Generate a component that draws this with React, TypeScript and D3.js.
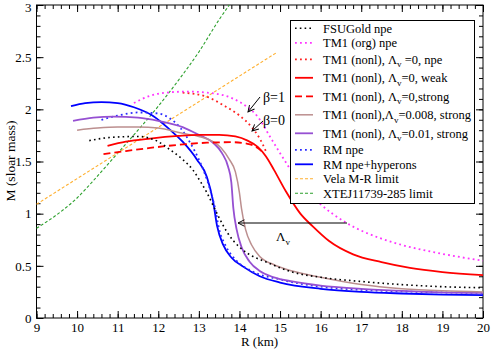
import React, { useEffect, useRef } from "react";
import * as d3 from "d3";

// [R (km), M (solar mass)]
const fsuGold = [
  [10.3, 1.7], [10.8, 1.73], [11.5, 1.74], [12.0, 1.69], [12.3, 1.61], [12.6, 1.52],
  [12.85, 1.42], [13.05, 1.3], [13.2, 1.2], [13.35, 1.08], [13.5, 0.96], [13.7, 0.82],
  [14.0, 0.68], [14.2, 0.62], [14.7, 0.53], [15.3, 0.44], [16.0, 0.39], [17.0, 0.35],
  [18.0, 0.32], [19.0, 0.3], [20.0, 0.29],
];
const tm1Org = [
  [11.4, 2.06], [11.8, 2.13], [12.2, 2.16], [12.7, 2.17], [13.2, 2.16], [13.8, 2.11],
  [14.2, 2.02], [14.45, 1.93], [14.75, 1.74], [15.0, 1.58], [15.5, 1.29], [16.0, 1.09],
  [16.6, 0.92], [17.5, 0.76], [18.0, 0.7], [18.8, 0.63], [19.5, 0.58], [20.0, 0.55],
];
const tm1NpeL0 = [
  [12.6, 2.16], [13.2, 2.12], [13.6, 2.04], [14.0, 1.94], [14.3, 1.83], [14.5, 1.72],
  [14.65, 1.6],
];
const tm1WeakL0 = [
  [10.75, 1.65], [11.2, 1.69], [11.8, 1.72], [12.5, 1.745], [13.0, 1.755], [13.5, 1.755],
  [13.9, 1.74], [14.2, 1.7], [14.45, 1.64], [14.65, 1.55], [14.85, 1.42], [15.15, 1.21],
  [15.5, 1.0], [15.8, 0.88], [16.2, 0.74], [16.8, 0.61], [17.5, 0.535], [18.2, 0.48],
  [19.0, 0.44], [20.0, 0.41],
];
const tm1StrongL0 = [
  [10.65, 1.57], [11.2, 1.6], [11.8, 1.63], [12.5, 1.66], [13.2, 1.68], [13.8, 1.685],
  [14.2, 1.67], [14.45, 1.63], [14.6, 1.58],
];
const tm1StrongL008 = [
  [10.0, 1.8], [10.5, 1.82], [11.0, 1.83], [11.5, 1.83], [12.0, 1.82], [12.6, 1.77],
  [13.0, 1.74], [13.3, 1.7], [13.55, 1.63], [13.75, 1.52], [13.9, 1.4], [14.0, 1.2],
  [14.05, 1.05], [14.15, 0.85], [14.3, 0.7], [14.5, 0.59], [14.85, 0.51], [15.3, 0.45],
  [16.0, 0.39], [17.0, 0.32], [18.0, 0.28], [19.0, 0.26], [20.0, 0.25],
];
const tm1StrongL01 = [
  [9.9, 1.89], [10.4, 1.92], [10.9, 1.93], [11.5, 1.92], [12.0, 1.89], [12.6, 1.83],
  [13.0, 1.755], [13.35, 1.68], [13.57, 1.58], [13.72, 1.45], [13.8, 1.3], [13.85, 1.05],
  [13.93, 0.85], [14.05, 0.68], [14.25, 0.54], [14.5, 0.45], [14.85, 0.39], [15.3, 0.35],
  [16.0, 0.31], [17.0, 0.28], [18.0, 0.26], [19.0, 0.245], [20.0, 0.24],
];
const rmNpe = [
  [10.6, 1.9], [11.0, 1.94], [11.5, 1.97], [12.0, 1.96], [12.3, 1.91], [12.55, 1.82],
  [12.8, 1.67], [13.0, 1.52], [13.15, 1.38], [13.3, 1.2], [13.4, 1.05], [13.5, 0.85],
  [13.65, 0.7], [13.9, 0.56], [14.3, 0.45], [15.0, 0.37], [16.0, 0.3], [17.0, 0.27],
  [18.0, 0.255], [19.0, 0.245], [20.0, 0.24],
];
const rmHyperons = [
  [9.85, 2.03], [10.2, 2.06], [10.6, 2.07], [11.0, 2.06], [11.4, 2.02], [11.9, 1.93],
  [12.3, 1.8], [12.6, 1.69], [12.95, 1.52], [13.2, 1.35], [13.35, 1.12], [13.45, 0.88],
  [13.6, 0.7], [13.8, 0.58], [14.1, 0.49], [14.5, 0.4], [15.0, 0.34], [16.0, 0.28],
  [17.0, 0.25], [18.0, 0.235], [19.0, 0.225], [20.0, 0.22],
];
const velaLimit = [[9.0, 1.09], [14.9, 2.54]];
const xteLimit = [
  [9.0, 0.86], [9.5, 0.99], [10.0, 1.15], [10.5, 1.36], [11.0, 1.58], [11.5, 1.8],
  [12.0, 2.03], [12.5, 2.28], [13.0, 2.55], [13.5, 2.86], [13.75, 3.0],
];

const xTicks = [9, 10, 11, 12, 13, 14, 15, 16, 17, 18, 19, 20];
const yTicks = [0, 0.5, 1, 1.5, 2, 2.5, 3];

// legend label: [before subscript, subscript, after]
const series = [
  { label: ["FSUGold npe", "", ""], data: fsuGold, color: "#000", w: 1.6, dash: "1.6,3.2", sub: false },
  { label: ["TM1 (org) npe", "", ""], data: tm1Org, color: "#ff33ff", w: 1.8, dash: "1.8,3.2", sub: false },
  { label: ["TM1 (nonl), \u039B", "v", " =0, npe"], data: tm1NpeL0, color: "#ff2020", w: 1.8, dash: "1.8,3.2", sub: true },
  { label: ["TM1 (nonl), \u039B", "v", "=0, weak"], data: tm1WeakL0, color: "#ff0000", w: 1.8, dash: null, sub: true },
  { label: ["TM1 (nonl), \u039B", "v", "=0,strong"], data: tm1StrongL0, color: "#ff0000", w: 1.8, dash: "7,4", sub: true },
  { label: ["TM1 (nonl),\u039B", "v", "=0.008, strong"], data: tm1StrongL008, color: "#bc8f8f", w: 1.5, dash: null, sub: true },
  { label: ["TM1 (nonl), \u039B", "v", "=0.01, strong"], data: tm1StrongL01, color: "#9650d2", w: 1.8, dash: null, sub: true },
  { label: ["RM npe", "", ""], data: rmNpe, color: "#2a2aff", w: 1.8, dash: "1.8,3.2", sub: false },
  { label: ["RM npe+hyperons", "", ""], data: rmHyperons, color: "#0000ff", w: 1.8, dash: null, sub: false },
  { label: ["Vela M-R limit", "", ""], data: velaLimit, color: "#ffb030", w: 1.1, dash: "3,2", sub: false },
  { label: ["XTEJ11739-285 limit", "", ""], data: xteLimit, color: "#2ca02c", w: 1.1, dash: "3,2", sub: false },
];

const W = 491;
const H = 349;
const font = "Liberation Serif, Times New Roman, DejaVu Serif, serif";

const App = () => {
  const ref = useRef<SVGSVGElement>(null);

  useEffect(() => {
    const svg = d3.select(ref.current);
    svg.selectAll("*").remove();

    const x = d3.scaleLinear().domain([9, 20]).range([36.5, 483]);
    const y = d3.scaleLinear().domain([0, 3]).range([318, 5]);

    const xMinor = d3.range(9, 20.001, 0.2);
    const yMinor = d3.range(0, 3.001, 0.1);

    // axes, ticks pointing inward on all four sides
    const addAxis = (axis, tr, major, minor, labels) => {
      const g = svg.append("g").attr("transform", tr);
      g.call(axis.tickValues(minor).tickSize(-4).tickSizeOuter(0).tickFormat(() => ""));
      const g2 = svg.append("g").attr("transform", tr);
      g2.call(
        axis
          .tickValues(major)
          .tickSize(-7)
          .tickPadding(5)
          .tickFormat(labels ? (d) => String(d) : () => "")
      );
      [g, g2].forEach((s) => {
        s.select(".domain").remove();
        s.attr("font-family", null).attr("font-size", null);
        s.selectAll("line").attr("stroke", "#000");
        s.selectAll("text").style("font-family", font).style("font-size", "13px").attr("fill", "#000");
      });
      return g2;
    };
    addAxis(d3.axisBottom(x), "translate(0,318)", xTicks, xMinor, true);
    addAxis(d3.axisTop(x), "translate(0,5)", xTicks, xMinor, false);
    const yAx = addAxis(d3.axisLeft(y), "translate(36.5,0)", yTicks, yMinor, true);
    yAx.selectAll("text").filter((d) => d === 3).attr("dy", "0.5em");
    addAxis(d3.axisRight(y), "translate(483,0)", yTicks, yMinor, false);

    svg
      .append("rect")
      .attr("x", 36.5)
      .attr("y", 5)
      .attr("width", 483 - 36.5)
      .attr("height", 318 - 5)
      .attr("fill", "none")
      .attr("stroke", "#000");

    const line = d3
      .line()
      .x((d) => x(d[0]))
      .y((d) => y(d[1]))
      .curve(d3.curveMonotoneX);

    const plot = svg.append("g");
    series
      .slice()
      .reverse()
      .forEach((s) => {
        plot
          .append("path")
          .attr("d", line(s.data))
          .attr("fill", "none")
          .attr("stroke", s.color)
          .attr("stroke-width", s.w)
          .attr("stroke-dasharray", s.dash)
          .attr("stroke-linejoin", "round");
      });

    // annotations
    const defs = svg.append("defs");
    defs
      .append("marker")
      .attr("id", "ah")
      .attr("viewBox", "0 0 10 10")
      .attr("refX", 9)
      .attr("refY", 5)
      .attr("markerWidth", 8)
      .attr("markerHeight", 8)
      .attr("orient", "auto")
      .append("path")
      .attr("d", "M1,1 L9,5 L1,9")
      .attr("fill", "none")
      .attr("stroke", "#000")
      .attr("stroke-width", 1.2);

    const arrows = [
      [[260, 97], [248, 112]],
      [[263, 121], [252, 131]],
      [[347, 223], [238, 223]],
    ];
    arrows.forEach(([a, b]) => {
      svg
        .append("line")
        .attr("x1", a[0])
        .attr("y1", a[1])
        .attr("x2", b[0])
        .attr("y2", b[1])
        .attr("stroke", "#000")
        .attr("stroke-width", 1)
        .attr("marker-end", "url(#ah)");
    });

    const txt = (tx, ty, s, size = 13) =>
      svg
        .append("text")
        .attr("x", tx)
        .attr("y", ty)
        .style("font-family", font)
        .style("font-size", size + "px")
        .attr("fill", "#000")
        .text(s);
    txt(263, 102, "\u03B2=1", 14);
    txt(263, 125, "\u03B2=0", 14);
    const lam = txt(276, 241, "\u039B", 13);
    lam.append("tspan").attr("dy", 4).style("font-size", "9px").text("v");

    // legend
    const lg = svg.append("g");
    lg.append("rect")
      .attr("x", 290.5)
      .attr("y", 20.5)
      .attr("width", 184)
      .attr("height", 183)
      .attr("fill", "#fff")
      .attr("stroke", "#000");
    let ly = 28.3;
    series.forEach((s, i) => {
      if (i > 0) ly += 14.5 + (s.sub ? 2 : 0) + (series[i - 1].sub ? 2 : 0);
      lg.append("line")
        .attr("x1", 295)
        .attr("x2", 313)
        .attr("y1", ly)
        .attr("y2", ly)
        .attr("stroke", s.color)
        .attr("stroke-width", s.w)
        .attr("stroke-dasharray", s.dash);
      const t = lg
        .append("text")
        .attr("x", 323)
        .attr("y", ly + 4.3)
        .style("font-family", font)
        .style("font-size", "12.5px")
        .attr("fill", "#000");
      t.append("tspan").text(s.label[0]);
      if (s.label[1]) {
        t.append("tspan").attr("dy", 3.5).style("font-size", "9px").text(s.label[1]);
        t.append("tspan").attr("dy", -3.5).text(s.label[2]);
      }
    });

    // axis titles
    txt(259.5, 345.5, "R (km)", 13).attr("text-anchor", "middle");
    txt(0, 0, "M (sloar mass)", 13.5)
      .attr("text-anchor", "middle")
      .attr("transform", "translate(15,161) rotate(-90)");
  }, []);

  return (
    <div style={{ position: "absolute", left: 0, top: 0 }}>
      <svg ref={ref} width={W} height={H} style={{ display: "block", background: "#fff" }} />
    </div>
  );
};

export default App;
